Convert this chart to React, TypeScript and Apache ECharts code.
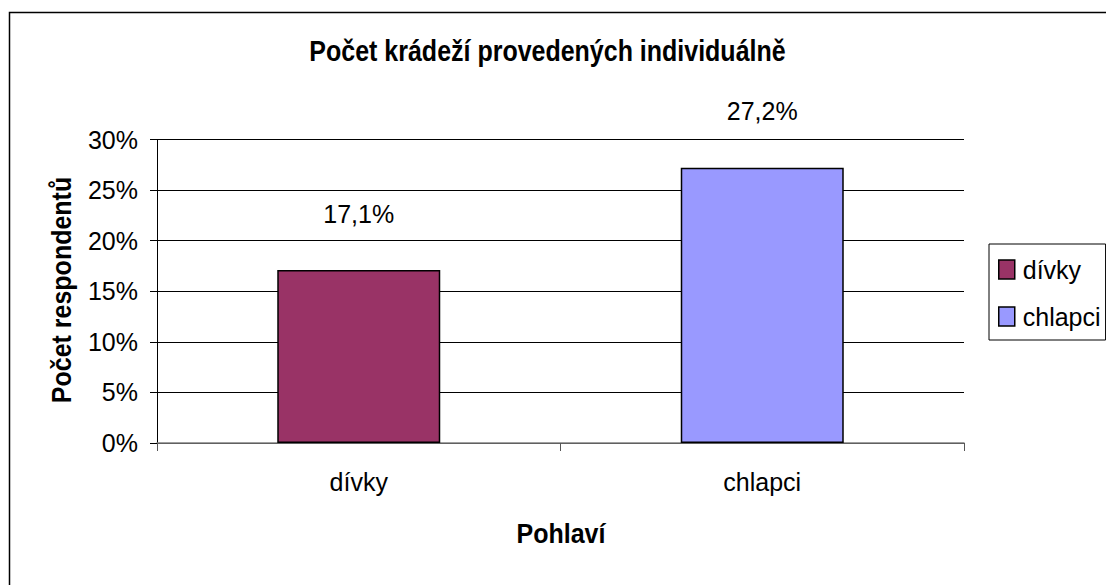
import React, { useEffect, useRef } from "react";
import * as echarts from "echarts";

const categories = ["dívky", "chlapci"];
const seriesNames = ["dívky", "chlapci"];
const divkyValues = [17.1, "-"];
const chlapciValues = ["-", 27.2];
const yTicks = [0, 5, 10, 15, 20, 25, 30];
const titleText = "Počet krádeží provedených individuálně";
const yAxisTitle = "Počet respondentů";
const xAxisTitle = "Pohlaví";
const colors = ["#993366", "#9999FF"];

const FONT = "'Liberation Sans', Arial, Helvetica, sans-serif";

export default function App() {
  const ref = useRef<HTMLDivElement>(null);
  useEffect(() => {
    document.body.style.margin = "0";
    const chart = echarts.init(ref.current!, null, { renderer: "svg" });
    const fmtPct = (v: number) => String(v).replace(".", ",") + "%";
    const labelOpt = {
      show: true,
      position: "top",
      distance: 44,
      fontSize: 25,
      color: "#000",
      fontFamily: FONT,
      formatter: (p: any) => fmtPct(p.value),
    };
    chart.setOption({
      animation: false,
      backgroundColor: "#ffffff",
      textStyle: { fontFamily: FONT },
      grid: { left: 157, right: 142, top: 139.5, bottom: 142, containLabel: false },
      legend: {
        data: seriesNames,
        orient: "vertical",
        left: 989,
        top: 244,
        padding: [13, 5, 11, 9],
        itemGap: 22,
        itemWidth: 16,
        itemHeight: 19,
        icon: "rect",
        borderColor: "#000",
        borderWidth: 1,
        itemStyle: { borderColor: "#000", borderWidth: 1.5 },
        textStyle: { fontSize: 25, color: "#000", fontFamily: FONT, lineHeight: 25, padding: [0, 0, 0, 3] },
      },
      xAxis: {
        type: "category",
        data: categories,
        boundaryGap: true,
        axisLine: { show: true, lineStyle: { color: "#808080", width: 1.5 } },
        axisTick: { show: true, length: 8, alignWithLabel: false, lineStyle: { color: "#555", width: 1 } },
        axisLabel: { fontSize: 25, color: "#000", margin: 26, fontFamily: FONT },
        splitLine: { show: false },
      },
      yAxis: {
        type: "value",
        min: yTicks[0],
        max: yTicks[yTicks.length - 1],
        interval: 5,
        axisLine: { show: true, lineStyle: { color: "#000", width: 1 } },
        axisTick: { show: true, length: 7, lineStyle: { color: "#000" } },
        axisLabel: { fontSize: 25, color: "#000", margin: 19, formatter: "{value}%", fontFamily: FONT },
        splitLine: { show: true, lineStyle: { color: "#000", width: 1 } },
      },
      series: [
        {
          name: seriesNames[0],
          type: "bar",
          data: divkyValues,
          barWidth: 163,
          barGap: "-100%",
          itemStyle: { color: colors[0], borderColor: "#000", borderWidth: 1.5 },
          label: labelOpt,
        },
        {
          name: seriesNames[1],
          type: "bar",
          data: chlapciValues,
          barWidth: 163,
          barGap: "-100%",
          itemStyle: { color: colors[1], borderColor: "#000", borderWidth: 1.5 },
          label: labelOpt,
        },
      ],
      graphic: [
        {
          type: "rect",
          silent: true,
          shape: { x: 9.5, y: 12.5, width: 1300, height: 800 },
          style: { fill: "none", stroke: "#000", lineWidth: 1.5 },
          z: 100,
        },
        {
          type: "text",
          x: 547.5,
          y: 51,
          scaleY: 1.18,
          style: {
            text: titleText,
            textAlign: "center",
            textVerticalAlign: "middle",
            font: `bold 25px ${FONT}`,
            fill: "#000",
          },
        },
        {
          type: "text",
          x: 62,
          y: 290,
          rotation: Math.PI / 2,
          scaleY: 1.12,
          style: {
            text: yAxisTitle,
            textAlign: "center",
            textVerticalAlign: "middle",
            font: `bold 25px ${FONT}`,
            fill: "#000",
          },
        },
        {
          type: "text",
          x: 561,
          y: 534,
          scaleY: 1.08,
          style: {
            text: xAxisTitle,
            textAlign: "center",
            textVerticalAlign: "middle",
            font: `bold 25px ${FONT}`,
            fill: "#000",
          },
        },
      ],
    });
    return () => chart.dispose();
  }, []);
  return <div ref={ref} style={{ width: 1106, height: 585, overflow: "hidden" }} />;
}
